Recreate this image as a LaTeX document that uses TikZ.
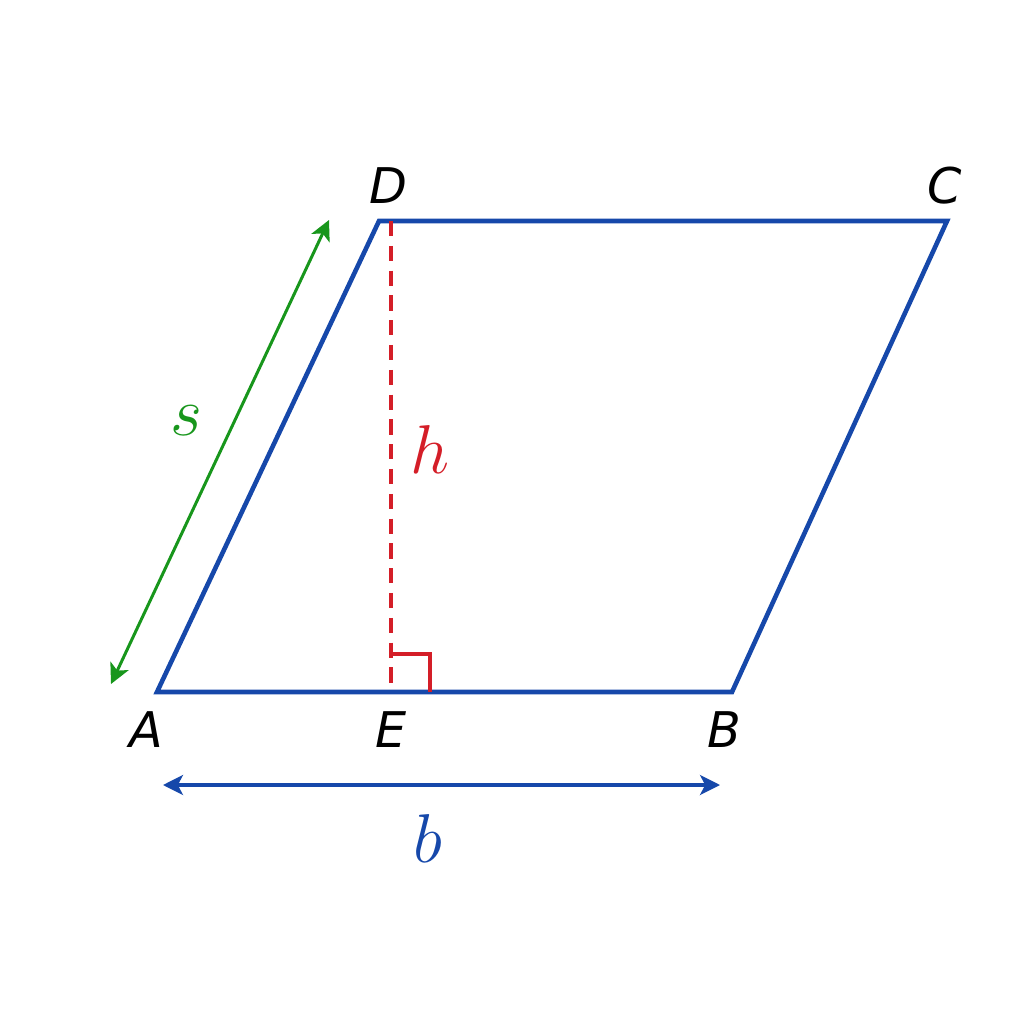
\documentclass[tikz,border=0pt]{standalone}
\usepackage{amsmath, amssymb}
\usepackage{fontspec}
\newfontfamily\ptfont{DejaVu Sans}
\usetikzlibrary{arrows.meta}
\definecolor{sideblue}{RGB}{22,72,170}
\definecolor{sidegreen}{RGB}{24,150,28}
\definecolor{hred}{RGB}{212,30,40}
\tikzset{every picture/.style={line width=0.75pt}}
\tikzset{
  side/.style={draw=sideblue, line width=1.15pt, line join=miter},
  ptlabel/.style={font=\ptfont\itshape\fontsize{12.3}{14}\selectfont, inner sep=0.75pt},
  dimarrow/.style={{Stealth[length=5pt,width=5pt,inset=1.3pt]}-{Stealth[length=5pt,width=5pt,inset=1.3pt]}}
}

\begin{document}
\begin{tikzpicture}[x=0.25pt,y=0.25pt,yscale=-1,xscale=1]
\path[use as bounding box] (0,0) rectangle (1024,1024);

% corners of the parallelogram
\coordinate (A) at (157,692);
\coordinate (B) at (732,692);
\coordinate (C) at (947,221);
\coordinate (D) at (379,221);
\coordinate (E) at (391,692);
\coordinate (H) at (391,221);
% ends of the dimension arrows
\coordinate (s1) at (111,684);
\coordinate (s2) at (329,220);
\coordinate (b1) at (163,785);
\coordinate (b2) at (720,785);

%Shape: parallelogram
\draw [side] (A) -- (B) -- (C) -- (D) -- cycle ;
%Straight Lines: height
\draw [hred, line width=0.85pt, dash pattern=on 3.8pt off 2.4pt] (H) -- (E) ;
%Shape: right angle
\draw [hred, line width=0.85pt] (391,654) -- (430,654) -- (430,692) ;
%Straight Lines: side s
\draw [sidegreen, line width=0.75pt, dimarrow] (s1) -- (s2) ;
%Straight Lines: base b
\draw [sideblue, line width=0.8pt, dimarrow] (b1) -- (b2) ;

% Text Node
\node (lA) [ptlabel] at (146,730) {A};
% Text Node
\node (lB) [ptlabel] at (724,730) {B};
% Text Node
\node (lC) [ptlabel] at (945,186) {C};
% Text Node
\node (lD) [ptlabel] at (388,186) {D};
% Text Node
\node (lE) [ptlabel] at (391,730) {E};
% Text Node
\node (lh) [text=hred, font=\fontsize{16}{18}\selectfont] at (430,450) {$h$};
% Text Node
\node (ls) [text=sidegreen, font=\fontsize{17}{19}\selectfont] at (186,421) {$s$};
% Text Node
\node (lb) [text=sideblue, font=\fontsize{16}{18}\selectfont] at (428,838) {$b$};

\end{tikzpicture}
\end{document}
